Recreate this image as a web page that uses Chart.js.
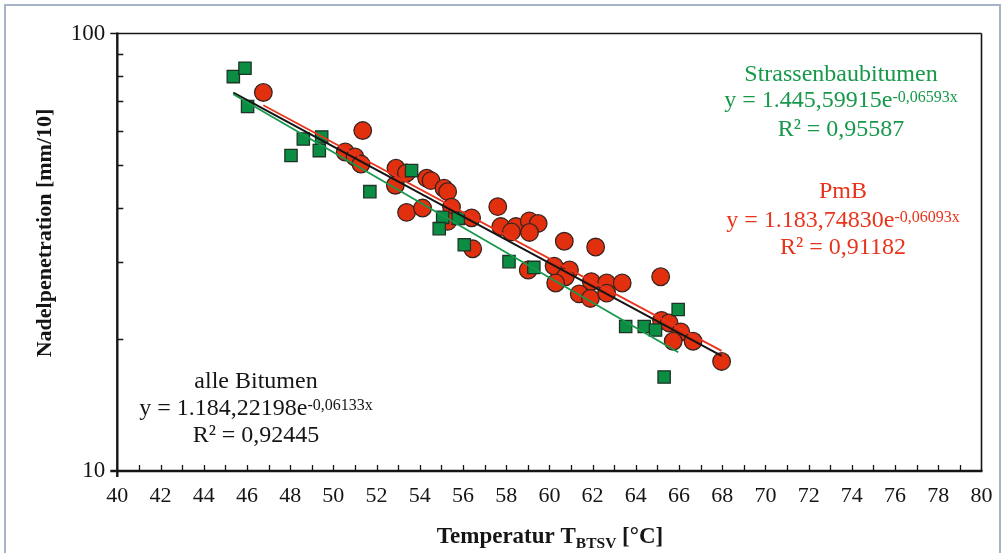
<!DOCTYPE html>
<html><head><meta charset="utf-8">
<script src="https://cdn.jsdelivr.net/npm/chart.js@4/dist/chart.umd.min.js"></script>
<style>
html,body{margin:0;padding:0;background:#fff;}
#wrap{position:relative;width:1005px;height:553px;}
canvas{display:block;}
</style></head><body>
<div id="wrap"><canvas id="c" width="1005" height="553"></canvas></div>
<script>
// ---- data ----
const strassenX = [45.37, 45.91, 46.03, 48.04, 48.61, 49.46, 49.35, 51.69, 53.62, 55.06, 55.78, 54.90, 56.06, 58.13, 59.28, 63.53, 64.39, 64.91, 65.96, 65.31];
const strassenY = [79.7, 83.3, 68.1, 52.6, 57.4, 58.0, 54.0, 43.5, 48.6, 38.0, 37.8, 35.8, 32.9, 30.1, 29.2, 21.4, 21.4, 21.0, 23.4, 16.4];
const pmbX = [46.76, 51.36, 50.55, 51.00, 51.28, 52.90, 53.38, 52.87, 54.32, 54.52, 55.12, 55.29, 55.47, 53.39, 54.13, 55.29, 56.40, 57.61, 57.75, 58.45, 58.24, 59.07, 59.48, 59.08, 56.45, 60.69, 62.14, 59.02, 60.22, 60.93, 60.74, 60.29, 61.94, 62.65, 63.37, 61.38, 61.90, 62.65, 65.15, 65.19, 65.54, 66.08, 65.73, 66.65, 67.97];
const pmbY = [73.3, 60.0, 53.6, 52.2, 50.3, 49.2, 48.0, 45.0, 46.7, 46.1, 44.3, 43.5, 40.1, 39.0, 39.9, 37.2, 37.9, 40.2, 36.2, 36.2, 35.2, 37.3, 36.8, 35.1, 32.2, 33.5, 32.5, 28.8, 29.4, 28.8, 27.8, 26.9, 27.1, 26.9, 26.9, 25.4, 24.8, 25.5, 27.8, 22.1, 21.8, 20.8, 19.8, 19.8, 17.8];
const xTickLabels = [40,42,44,46,48,50,52,54,56,58,60,62,64,66,68,70,72,74,76,78,80];
const yTickLabels = [10, 100];
const yMinorTicks = [20,30,40,50,60,70,80,90];
// trend coefficients shown in the chart: y = a * e^(b x)
const trendStrassen = [1445.59915, -0.06593];
const trendPmB = [1183.74830, -0.06093];
const trendAll = [1184.22198, -0.06133];

const GREEN = '#0b8d43', RED = '#e2300f';
const GREEN_T = '#17984a', RED_T = '#e8341c';

const pts = (xs, ys) => xs.map((x, i) => ({x: x, y: ys[i]}));
function trend(coef, xs) {
  const lo = Math.min(...xs), hi = Math.max(...xs);
  return [lo, hi].map(x => ({x: x, y: coef[0] * Math.exp(coef[1] * x)}));
}
const allX = strassenX.concat(pmbX);

const SERIF = '"Liberation Serif", "Times New Roman", serif';

const decor = {
  id: 'decor',
  beforeDraw(chart) {
    const ctx = chart.ctx;
    ctx.save();
    ctx.fillStyle = '#fff';
    ctx.fillRect(0, 0, chart.width, chart.height);
    ctx.strokeStyle = '#a7b4c8';
    ctx.lineWidth = 2;
    ctx.strokeRect(5, 5, 995, 560);
    ctx.restore();
  },
  afterDraw(chart) {
    const ctx = chart.ctx;
    const a = chart.chartArea;
    const xs = chart.scales.x, ys = chart.scales.y;
    ctx.save();
    // frame
    ctx.strokeStyle = '#151515';
    ctx.lineWidth = 1.6;
    ctx.beginPath();
    ctx.moveTo(a.left - 7, a.top); ctx.lineTo(a.right, a.top);
    ctx.moveTo(a.right, a.top); ctx.lineTo(a.right, a.bottom);
    ctx.stroke();
    ctx.lineWidth = 2.4;
    ctx.beginPath();
    ctx.moveTo(a.left, a.top - 1); ctx.lineTo(a.left, a.bottom + 6);
    ctx.moveTo(a.left - 7, a.bottom); ctx.lineTo(a.right + 1, a.bottom);
    ctx.stroke();
    // inner ticks
    ctx.lineWidth = 1.3;
    ctx.beginPath();
    for (let v = 41; v < 80; v++) {
      const px = Math.round(xs.getPixelForValue(v)) + 0.5;
      ctx.moveTo(px, a.bottom); ctx.lineTo(px, a.bottom - 6);
    }
    yMinorTicks.forEach(v => {
      const py = Math.round(ys.getPixelForValue(v)) + 0.5;
      ctx.moveTo(a.left, py); ctx.lineTo(a.left + 6, py);
    });
    ctx.stroke();

    // axis titles
    ctx.fillStyle = '#151515';
    ctx.font = 'bold 22px ' + SERIF;
    ctx.textAlign = 'center';
    ctx.textBaseline = 'alphabetic';
    ctx.save();
    ctx.translate(51, 233);
    ctx.rotate(-Math.PI / 2);
    ctx.fillText('Nadelpenetration [mm/10]', 0, 0);
    ctx.restore();

    drawRich(ctx, 550, 543, [
      {t: 'Temperatur T', size: 23, bold: true, dy: 0},
      {t: 'BTSV', size: 15.5, bold: true, dy: 5},
      {t: ' [°C]', size: 23, bold: true, dy: 0}
    ], '#151515');

    // annotations
    const S = 24, SS = 16;
    drawRich(ctx, 841, 81, [{t: 'Strassenbaubitumen', size: S}], GREEN_T);
    drawRich(ctx, 841, 107, [{t: 'y = 1.445,59915e', size: S}, {t: '-0,06593x', size: SS, dy: -5}], GREEN_T);
    drawRich(ctx, 841, 135.5, [{t: 'R² = 0,95587', size: S}], GREEN_T);

    drawRich(ctx, 843, 198, [{t: 'PmB', size: S}], RED_T);
    drawRich(ctx, 843, 226.5, [{t: 'y = 1.183,74830e', size: S}, {t: '-0,06093x', size: SS, dy: -5}], RED_T);
    drawRich(ctx, 843, 254, [{t: 'R² = 0,91182', size: S}], RED_T);

    drawRich(ctx, 256, 388, [{t: 'alle Bitumen', size: S}], '#151515');
    drawRich(ctx, 256, 415, [{t: 'y = 1.184,22198e', size: S}, {t: '-0,06133x', size: SS, dy: -5}], '#151515');
    drawRich(ctx, 256, 441.5, [{t: 'R² = 0,92445', size: S}], '#151515');
    ctx.restore();
  }
};

function drawRich(ctx, cx, base, parts, color) {
  ctx.save();
  ctx.fillStyle = color;
  ctx.textAlign = 'left';
  ctx.textBaseline = 'alphabetic';
  let total = 0;
  parts.forEach(p => {
    ctx.font = (p.bold ? 'bold ' : '') + p.size + 'px ' + SERIF;
    p.w = ctx.measureText(p.t).width;
    total += p.w;
  });
  let x = cx - total / 2;
  parts.forEach(p => {
    ctx.font = (p.bold ? 'bold ' : '') + p.size + 'px ' + SERIF;
    ctx.fillText(p.t, x, base + (p.dy || 0));
    x += p.w;
  });
  ctx.restore();
}

new Chart(document.getElementById('c'), {
  type: 'scatter',
  data: {
    datasets: [
      {label: 'Trend Strassenbaubitumen', type: 'line', data: trend(trendStrassen, strassenX),
       borderColor: GREEN_T, borderWidth: 1.8, pointRadius: 0, fill: false, order: 0},
      {label: 'Trend PmB', type: 'line', data: trend(trendPmB, pmbX),
       borderColor: RED_T, borderWidth: 1.8, pointRadius: 0, fill: false, order: 0},
      {label: 'Trend alle Bitumen', type: 'line', data: trend(trendAll, allX),
       borderColor: '#151515', borderWidth: 2, pointRadius: 0, fill: false, order: 0},
      {label: 'Strassenbaubitumen', data: pts(strassenX, strassenY), pointStyle: 'rect',
       pointRadius: 8.7, backgroundColor: GREEN, borderColor: '#1d3326', borderWidth: 1.3, order: 1},
      {label: 'PmB', data: pts(pmbX, pmbY), pointStyle: 'circle',
       pointRadius: 8.8, backgroundColor: RED, borderColor: '#3a2420', borderWidth: 1.3, order: 2}
    ]
  },
  options: {
    responsive: false,
    animation: false,
    devicePixelRatio: 1,
    layout: {padding: {left: 0, right: 23.5, top: 33.5, bottom: 0}},
    plugins: {legend: {display: false}, tooltip: {enabled: false}},
    scales: {
      x: {
        type: 'linear', min: 40, max: 80, position: 'bottom',
        afterBuildTicks: s => { s.ticks = xTickLabels.map(v => ({value: v})); },
        afterFit: s => { s.height = 82; },
        ticks: {autoSkip: false, maxRotation: 0, padding: 4, color: '#151515',
                font: {family: SERIF, size: 22}, callback: v => String(v)},
        grid: {display: false}, border: {display: false}
      },
      y: {
        type: 'logarithmic', min: 10, max: 100, position: 'left',
        afterBuildTicks: s => { s.ticks = yTickLabels.map(v => ({value: v})); },
        afterFit: s => { s.width = 117.3; },
        ticks: {padding: 4, color: '#151515', font: {family: SERIF, size: 23},
                callback: v => String(v)},
        grid: {display: false}, border: {display: false}
      }
    }
  },
  plugins: [decor]
});
</script>
</body></html>
